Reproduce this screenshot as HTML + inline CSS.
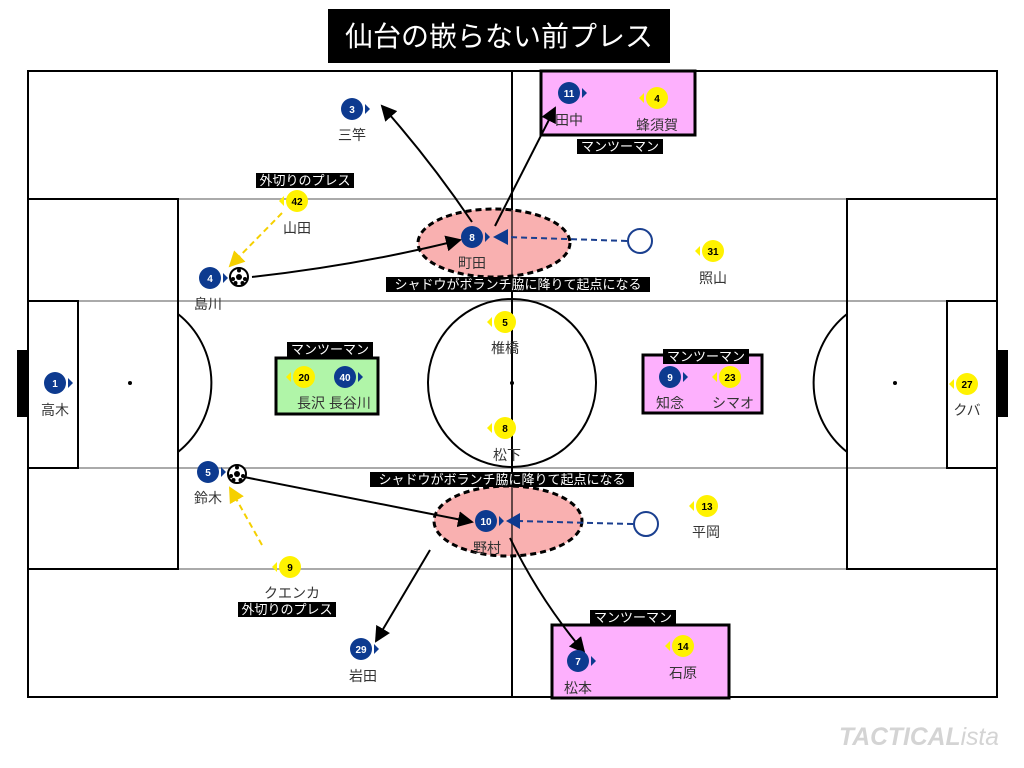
<!DOCTYPE html>
<html><head><meta charset="utf-8"><style>
body{margin:0;background:#fff;}
svg{display:block;font-family:"Liberation Sans","Noto Sans CJK JP",sans-serif;}
.n{font-size:10px;font-weight:bold;text-anchor:middle;}
.l{font-size:14px;fill:#333;text-anchor:middle;}
.t{font-size:13px;fill:#fff;text-anchor:middle;}
</style></head><body>
<svg width="1024" height="768" viewBox="0 0 1024 768" xmlns="http://www.w3.org/2000/svg">
<defs>
<marker id="ahB" markerWidth="16" markerHeight="16" refX="14" refY="8" orient="auto" markerUnits="userSpaceOnUse" viewBox="0 0 16 16"><path d="M0,0 L16,8 L0,16 z" fill="#000"/></marker>
<marker id="ahY" markerWidth="16" markerHeight="16" refX="14" refY="8" orient="auto" markerUnits="userSpaceOnUse" viewBox="0 0 16 16"><path d="M0,0 L16,8 L0,16 z" fill="#f5d000"/></marker>
<g id="ball"><circle r="9" fill="#fff" stroke="#000" stroke-width="2"/><circle r="3" fill="#000"/><circle cx="0" cy="-6.5" r="2" fill="#000"/><circle cx="6" cy="2" r="2" fill="#000"/><circle cx="-6" cy="2" r="2" fill="#000"/><circle cx="3.5" cy="6" r="2" fill="#000"/><circle cx="-3.5" cy="6" r="2" fill="#000"/></g>
</defs>
<rect x="328" y="9" width="342" height="54" fill="#000"/>
<text x="499" y="46" font-size="28" fill="#fff" text-anchor="middle">仙台の嵌らない前プレス</text>
<g fill="none" stroke="#aaa" stroke-width="2">
<line x1="28" y1="199" x2="997" y2="199"/><line x1="28" y1="569" x2="997" y2="569"/>
<line x1="28" y1="301" x2="997" y2="301"/><line x1="28" y1="468" x2="997" y2="468"/>
</g>
<g fill="none" stroke="#000" stroke-width="2">
<rect x="28" y="71" width="969" height="626"/>
<line x1="512" y1="71" x2="512" y2="697"/>
<circle cx="512" cy="383" r="84"/>
<rect x="28" y="199" width="150" height="370"/>
<rect x="28" y="301" width="50" height="167"/>
<rect x="847" y="199" width="150" height="370"/>
<rect x="947" y="301" width="50" height="167"/>
<path d="M178,314 A88,88 0 0 1 178,452"/>
<path d="M847,314 A88,88 0 0 0 847,452"/>
</g>
<rect x="17" y="350" width="11" height="67" fill="#000"/>
<rect x="997" y="350" width="11" height="67" fill="#000"/>
<circle cx="130" cy="383" r="2" fill="#000"/><circle cx="895" cy="383" r="2" fill="#000"/><circle cx="512" cy="383" r="2" fill="#000"/>
<rect x="541" y="71" width="154" height="64" fill="#fdb0fd" stroke="#000" stroke-width="3"/>
<rect x="276" y="358" width="102" height="56" fill="#b0f5a8" stroke="#000" stroke-width="3"/>
<rect x="643" y="355" width="119" height="58" fill="#fdb0fd" stroke="#000" stroke-width="3"/>
<rect x="552" y="625" width="177" height="73" fill="#fdb0fd" stroke="#000" stroke-width="3"/>
<ellipse cx="494" cy="243" rx="76" ry="34" fill="#f9b0b0" stroke="#000" stroke-width="3" stroke-dasharray="6,4"/>
<ellipse cx="508" cy="521" rx="74" ry="35" fill="#f9b0b0" stroke="#000" stroke-width="3" stroke-dasharray="6,4"/>
<line x1="512" y1="209" x2="512" y2="277" stroke="#000" stroke-width="2" opacity="0.6"/>
<line x1="512" y1="486" x2="512" y2="556" stroke="#000" stroke-width="2" opacity="0.6"/>
<g>
<rect x="577" y="139" width="86" height="15" fill="#000"/><text class="t" x="620" y="151">マンツーマン</text>
<rect x="256" y="173" width="98" height="15" fill="#000"/><text class="t" x="305" y="185">外切りのプレス</text>
<rect x="386" y="277" width="264" height="15" fill="#000"/><text class="t" x="518" y="289">シャドウがボランチ脇に降りて起点になる</text>
<rect x="287" y="342" width="86" height="15" fill="#000"/><text class="t" x="330" y="354">マンツーマン</text>
<rect x="663" y="349" width="86" height="15" fill="#000"/><text class="t" x="706" y="361">マンツーマン</text>
<rect x="370" y="472" width="264" height="15" fill="#000"/><text class="t" x="502" y="484">シャドウがボランチ脇に降りて起点になる</text>
<rect x="238" y="602" width="98" height="15" fill="#000"/><text class="t" x="287" y="614">外切りのプレス</text>
<rect x="590" y="610" width="86" height="15" fill="#000"/><text class="t" x="633" y="622">マンツーマン</text>
</g>
<g fill="none" stroke="#000" stroke-width="2">
<path d="M472,222 Q430,160 382,106" marker-end="url(#ahB)"/>
<path d="M495,226 L555,108" marker-end="url(#ahB)"/>
<path d="M252,277 Q360,265 460,240" marker-end="url(#ahB)"/>
<path d="M244,477 L472,522" marker-end="url(#ahB)"/>
<path d="M430,550 L376,641" marker-end="url(#ahB)"/>
<path d="M510,538 Q540,600 584,652" marker-end="url(#ahB)"/>
</g>
<g fill="none" stroke="#f5d000" stroke-width="2" stroke-dasharray="6,4">
<path d="M282,213 L230,266" marker-end="url(#ahY)"/>
<path d="M262,545 L230,488" marker-end="url(#ahY)"/>
</g>
<g fill="none" stroke="#1a3f8f" stroke-width="2" stroke-dasharray="6,4">
<line x1="627" y1="241" x2="506" y2="237"/>
<line x1="633" y1="524" x2="516" y2="521"/>
</g>
<path d="M493,237 L508,229 L508,245 z" fill="#0d3a8f"/>
<path d="M506,521 L520,513 L520,529 z" fill="#0d3a8f"/>
<circle cx="640" cy="241" r="12" fill="#fff" stroke="#1a3f8f" stroke-width="2"/>
<circle cx="646" cy="524" r="12" fill="#fff" stroke="#1a3f8f" stroke-width="2"/>
<use href="#ball" x="239" y="277"/>
<use href="#ball" x="237" y="474"/>
<g fill="#0d3a8f">
<g transform="translate(352,109)"><circle r="11"/><path d="M13,-5 L18,0 L13,5z"/><text class="n" y="4" fill="#fff">3</text></g>
<g transform="translate(569,93)"><circle r="11"/><path d="M13,-5 L18,0 L13,5z"/><text class="n" y="4" fill="#fff">11</text></g>
<g transform="translate(472,237)"><circle r="11"/><path d="M13,-5 L18,0 L13,5z"/><text class="n" y="4" fill="#fff">8</text></g>
<g transform="translate(210,278)"><circle r="11"/><path d="M13,-5 L18,0 L13,5z"/><text class="n" y="4" fill="#fff">4</text></g>
<g transform="translate(345,377)"><circle r="11"/><path d="M13,-5 L18,0 L13,5z"/><text class="n" y="4" fill="#fff">40</text></g>
<g transform="translate(670,377)"><circle r="11"/><path d="M13,-5 L18,0 L13,5z"/><text class="n" y="4" fill="#fff">9</text></g>
<g transform="translate(55,383)"><circle r="11"/><path d="M13,-5 L18,0 L13,5z"/><text class="n" y="4" fill="#fff">1</text></g>
<g transform="translate(208,472)"><circle r="11"/><path d="M13,-5 L18,0 L13,5z"/><text class="n" y="4" fill="#fff">5</text></g>
<g transform="translate(486,521)"><circle r="11"/><path d="M13,-5 L18,0 L13,5z"/><text class="n" y="4" fill="#fff">10</text></g>
<g transform="translate(361,649)"><circle r="11"/><path d="M13,-5 L18,0 L13,5z"/><text class="n" y="4" fill="#fff">29</text></g>
<g transform="translate(578,661)"><circle r="11"/><path d="M13,-5 L18,0 L13,5z"/><text class="n" y="4" fill="#fff">7</text></g>
</g>
<g fill="#fff200">
<g transform="translate(657,98)"><circle r="11"/><path d="M-13,-5 L-18,0 L-13,5z"/><text class="n" y="4" fill="#000">4</text></g>
<g transform="translate(297,201)"><circle r="11"/><path d="M-13,-5 L-18,0 L-13,5z"/><text class="n" y="4" fill="#000">42</text></g>
<g transform="translate(713,251)"><circle r="11"/><path d="M-13,-5 L-18,0 L-13,5z"/><text class="n" y="4" fill="#000">31</text></g>
<g transform="translate(505,322)"><circle r="11"/><path d="M-13,-5 L-18,0 L-13,5z"/><text class="n" y="4" fill="#000">5</text></g>
<g transform="translate(304,377)"><circle r="11"/><path d="M-13,-5 L-18,0 L-13,5z"/><text class="n" y="4" fill="#000">20</text></g>
<g transform="translate(730,377)"><circle r="11"/><path d="M-13,-5 L-18,0 L-13,5z"/><text class="n" y="4" fill="#000">23</text></g>
<g transform="translate(967,384)"><circle r="11"/><path d="M-13,-5 L-18,0 L-13,5z"/><text class="n" y="4" fill="#000">27</text></g>
<g transform="translate(505,428)"><circle r="11"/><path d="M-13,-5 L-18,0 L-13,5z"/><text class="n" y="4" fill="#000">8</text></g>
<g transform="translate(707,506)"><circle r="11"/><path d="M-13,-5 L-18,0 L-13,5z"/><text class="n" y="4" fill="#000">13</text></g>
<g transform="translate(290,567)"><circle r="11"/><path d="M-13,-5 L-18,0 L-13,5z"/><text class="n" y="4" fill="#000">9</text></g>
<g transform="translate(683,646)"><circle r="11"/><path d="M-13,-5 L-18,0 L-13,5z"/><text class="n" y="4" fill="#000">14</text></g>
</g>
<text class="l" x="352" y="140">三竿</text>
<text class="l" x="569" y="125">田中</text>
<text class="l" x="657" y="130">蜂須賀</text>
<text class="l" x="297" y="233">山田</text>
<text class="l" x="472" y="268">町田</text>
<text class="l" x="713" y="283">照山</text>
<text class="l" x="208" y="309">島川</text>
<text class="l" x="505" y="353">椎橋</text>
<text class="l" x="334" y="408">長沢 長谷川</text>
<text class="l" x="670" y="408">知念</text>
<text class="l" x="733" y="408">シマオ</text>
<text class="l" x="55" y="415">高木</text>
<text class="l" x="967" y="415">クバ</text>
<text class="l" x="507" y="460">松下</text>
<text class="l" x="208" y="503">鈴木</text>
<text class="l" x="487" y="553">野村</text>
<text class="l" x="706" y="537">平岡</text>
<text class="l" x="292" y="598">クエンカ</text>
<text class="l" x="363" y="681">岩田</text>
<text class="l" x="578" y="693">松本</text>
<text class="l" x="683" y="678">石原</text>
<text x="919" y="745" font-size="25" font-weight="bold" fill="#d4d4d4" text-anchor="middle" font-style="italic" textLength="160" lengthAdjust="spacingAndGlyphs">TACTICAL<tspan font-weight="normal">ista</tspan></text>
</svg>
</body></html>
